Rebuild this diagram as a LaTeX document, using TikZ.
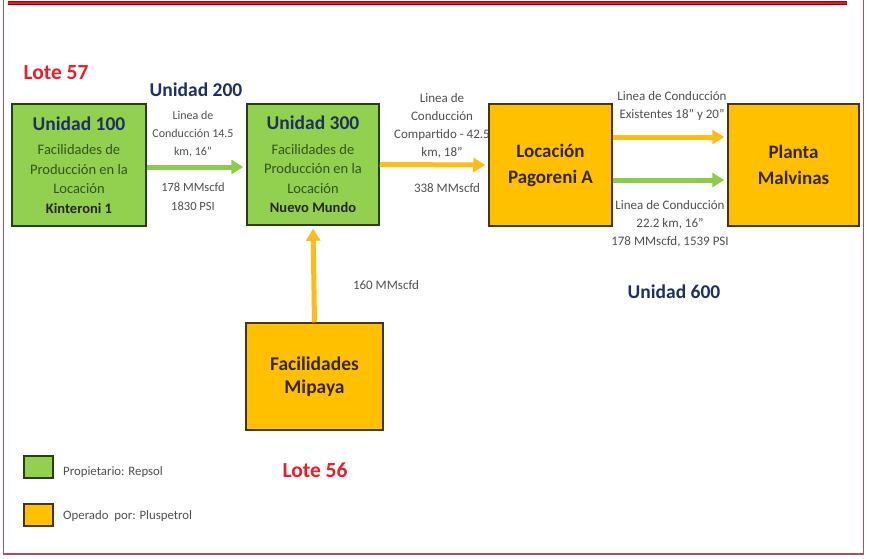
\documentclass[tikz,border=0pt]{standalone}
\usepackage{fontspec}
\setmainfont{Carlito}
\usetikzlibrary{arrows.meta}
\definecolor{gfill}{RGB}{146,208,80}
\definecolor{gborder}{RGB}{40,62,25}
\definecolor{ofill}{RGB}{255,192,0}
\definecolor{oborder}{RGB}{70,52,10}
\definecolor{garrow}{RGB}{140,204,76}
\definecolor{oarrow}{RGB}{255,188,20}
\definecolor{navy}{RGB}{31,48,96}
\definecolor{gtext}{RGB}{52,84,30}
\definecolor{otext}{RGB}{55,38,0}
\definecolor{lbl}{RGB}{80,80,80}
\definecolor{lotered}{RGB}{235,30,40}
\definecolor{frame}{RGB}{168,80,95}
\definecolor{topline}{RGB}{225,30,35}
\begin{document}
\begin{tikzpicture}[x=1pt,y=-1pt,
  greenbox/.style={draw=gborder, fill=gfill, line width=1.5pt, inner sep=0pt, align=center,
    text=gtext, font=\fontsize{14.5}{19.5}\selectfont},
  orangebox/.style={draw=oborder, fill=ofill, line width=1.5pt, inner sep=0pt, align=center,
    text=otext, font=\fontsize{19}{26}\selectfont\bfseries},
  lbltext/.style={text=lbl, align=center, inner sep=0pt, font=\fontsize{13}{18}\selectfont},
  unidad/.style={text=navy, inner sep=0pt, font=\fontsize{19.5}{22}\selectfont\bfseries},
  lote/.style={text=lotered, inner sep=0pt, font=\fontsize{21.5}{24}\selectfont\bfseries},
  garr/.style={draw=garrow, line width=5pt, -{Triangle[length=12pt,width=14pt]}, shorten >=3pt},
  oarr/.style={draw=oarrow, line width=5pt, -{Triangle[length=12pt,width=14pt]}, shorten >=3pt},
  legbox/.style={line width=1.3pt, minimum width=29pt, minimum height=22pt, inner sep=0pt},
  legtext/.style={text=lbl, anchor=west, inner sep=0pt, font=\fontsize{12.8}{14}\selectfont}
]
\useasboundingbox (0,0) rectangle (873,558);
\fill[white] (0,0) rectangle (873,558);
% frame
\draw[frame, line width=1.6pt] (3.5,0) -- (3.5,554) -- (863.5,554) -- (863.5,0);
\draw[red!60!black, line width=3.6pt] (8,3) -- (847,3);
\draw[topline, line width=2pt] (8,3) -- (847,3);

% labels (drawn first so boxes lie on top)
\node[lbltext, font=\fontsize{12}{18}\selectfont] (l1) at (193,134) {Linea de\\Conducción 14.5\\km, 16”};
\node[lbltext, font=\fontsize{12.5}{19}\selectfont] (l1b) at (193,196.5) {178 MMscfd\\1830 PSI};
\node[lbltext] (l2) at (442,126) {Linea de\\Conducción\\Compartido - 42.5\\km, 18”};
\node[lbltext] (l2b) at (447,188) {338 MMscfd};
\node[lbltext] (l3) at (672,106) {Linea de Conducción\\Existentes 18” y 20”};
\node[lbltext] (l4) at (670,224) {Linea de Conducción\\22.2 km, 16”\\178 MMscfd, 1539 PSI};
\node[lbltext] (l5) at (386,285) {160 MMscfd};

% boxes
\node[greenbox, minimum width=134pt, minimum height=122pt] (u100) at (79,165)
  {{\color{navy}\fontsize{19.5}{22}\selectfont\bfseries Unidad 100}\\[5pt]
   Facilidades de\\Producción en la\\Locación\\{\color{black!85}\bfseries Kinteroni 1}};
\node[greenbox, minimum width=132pt, minimum height=121pt] (u300) at (313,164.5)
  {{\color{navy}\fontsize{19.5}{22}\selectfont\bfseries Unidad 300}\\[5pt]
   Facilidades de\\Producción en la\\Locación\\{\color{black!85}\bfseries Nuevo Mundo}};
\node[orangebox, minimum width=123pt, minimum height=122pt] (pag) at (550.5,165)
  {Locación\\Pagoreni A};
\node[orangebox, minimum width=131pt, minimum height=122pt] (malv) at (793.5,165)
  {Planta\\Malvinas};
\node[orangebox, minimum width=137pt, minimum height=107pt, font=\fontsize{19.5}{23.5}\selectfont\bfseries] (mip) at (314.5,376.5)
  {Facilidades\\Mipaya};

% connectors
\draw[garr] ([yshift=-2pt]u100.east) -- ([yshift=-2.5pt]u300.west);
\draw[oarr] (u300.east) -- (pag.west);
\draw[oarr] (mip.north) -- (u300.south);
\draw[oarr] ([yshift=28pt]pag.east) -- ([yshift=28pt]malv.west);
\draw[garr] ([yshift=-15pt]pag.east) -- ([yshift=-15pt]malv.west);

\node[lote] (lote57) at (56,73) {Lote 57};
\node[lote] (lote56) at (315,470) {Lote 56};
\node[unidad] (u200) at (196,90) {Unidad 200};
\node[unidad] (u600) at (674,292) {Unidad 600};

% legend
\node[legbox, draw=gborder, fill=gfill] (leg1) at (38.5,467) {};
\node[legbox, draw=oborder, fill=ofill] (leg2) at (38.5,515) {};
\node[legtext] (leg1t) at (63,472) {Propietario: Repsol};
\node[legtext] (leg2t) at (63,516) {Operado\ \ por: Pluspetrol};
\end{tikzpicture}
\end{document}
